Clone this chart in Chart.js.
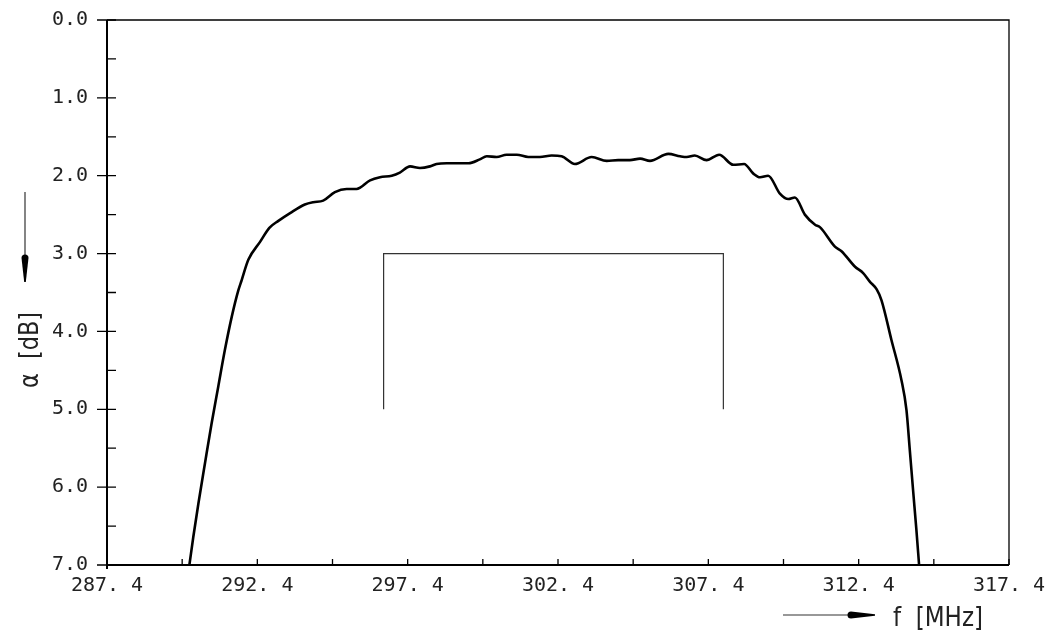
<!DOCTYPE html>
<html>
<head>
<meta charset="utf-8">
<script src="https://cdn.jsdelivr.net/npm/chart.js@4.4.1/dist/chart.umd.min.js"></script>
<style>
    html, body { margin: 0; padding: 0; background: #fff; }
    #wrap { width: 1051px; height: 635px; position: relative; }
</style>
</head>
<body>
<div id="wrap"><canvas id="attenuationChart"></canvas></div>
<script>
// Courbe d'attenuation (f en MHz, alpha en dB)
const FREQ = [
    290.14, 290.27, 290.44, 290.66, 290.88, 291.10, 291.32, 291.55, 291.77, 291.88,
    292.10, 292.49, 292.80, 293.10, 293.49, 293.98, 294.26, 294.59, 294.98, 295.37,
    295.70, 296.15, 296.48, 296.87, 297.14, 297.48, 297.81, 298.14, 298.36, 298.70,
    299.03, 299.42, 299.80, 300.03, 300.36, 300.69, 301.03, 301.41, 301.80, 302.19,
    302.52, 302.96, 303.52, 304.02, 304.40, 304.79, 305.13, 305.46, 306.07, 306.46,
    306.68, 306.95, 307.34, 307.76, 308.23, 308.59, 308.89, 309.12, 309.39, 309.78,
    310.06, 310.28, 310.61, 310.95, 311.11, 311.61, 311.83, 312.28, 312.55, 312.77,
    313.00, 313.16, 313.49, 313.82, 313.99, 314.10, 314.21, 314.32, 314.41
];
const ATTEN = [
    7.00, 6.64, 6.21, 5.69, 5.18, 4.71, 4.24, 3.81, 3.47, 3.34,
    3.08, 2.85, 2.67, 2.58, 2.48, 2.37, 2.34, 2.32, 2.21, 2.17,
    2.17, 2.06, 2.02, 2.00, 1.96, 1.88, 1.90, 1.88, 1.85, 1.84,
    1.84, 1.84, 1.79, 1.75, 1.76, 1.73, 1.73, 1.76, 1.76, 1.74,
    1.75, 1.85, 1.76, 1.81, 1.80, 1.80, 1.78, 1.81, 1.72, 1.75,
    1.76, 1.74, 1.80, 1.73, 1.86, 1.85, 1.97, 2.02, 2.00, 2.23,
    2.30, 2.28, 2.50, 2.63, 2.66, 2.91, 2.97, 3.17, 3.25, 3.36,
    3.46, 3.60, 4.11, 4.62, 5.01, 5.52, 6.04, 6.55, 7.00
];

// Gabarit (crochet)
const MASK_FREQ = [296.6, 296.6, 307.9, 307.9];
const MASK_ATTEN = [5.0, 3.0, 3.0, 5.0];

// Graduations
const X_TICKS = [287.4, 292.4, 297.4, 302.4, 307.4, 312.4, 317.4];
const X_LABELS = ['287. 4', '292. 4', '297. 4', '302. 4', '307. 4', '312. 4', '317. 4'];
const X_MINOR = [289.9, 294.9, 299.9, 304.9, 309.9, 314.9];
const Y_TICKS = [0, 1, 2, 3, 4, 5, 6, 7];
const Y_LABELS = ['0.0', '1.0', '2.0', '3.0', '4.0', '5.0', '6.0', '7.0'];
const Y_MINOR = [0.5, 1.5, 2.5, 3.5, 4.5, 5.5, 6.5];

const TICK_FONT = { family: "'DejaVu Sans Mono', monospace", size: 20 };
const INK = '#000';

/**
 * Cadre, graduations et titres d'axes
 */
const framePlugin = {
    id: 'frame',
    afterDraw(chart) {
        const { ctx, chartArea: a } = chart;
        const xs = chart.scales.x;
        const ys = chart.scales.y;
        ctx.save();
        ctx.strokeStyle = INK;
        ctx.lineCap = 'butt';

        // Cadre
        ctx.lineWidth = 1.3;
        ctx.beginPath();
        ctx.moveTo(a.left, a.top);
        ctx.lineTo(a.right, a.top);
        ctx.lineTo(a.right, a.bottom);
        ctx.stroke();
        ctx.lineWidth = 2;
        ctx.beginPath();
        ctx.moveTo(a.left, a.top);
        ctx.lineTo(a.left, a.bottom + 4);
        ctx.moveTo(a.left, a.bottom);
        ctx.lineTo(a.right, a.bottom);
        ctx.stroke();

        // Graduations Y
        ctx.lineWidth = 1.3;
        ctx.beginPath();
        Y_TICKS.forEach(v => {
            const y = ys.getPixelForValue(v);
            ctx.moveTo(a.left - 10, y);
            ctx.lineTo(a.left + 9, y);
        });
        Y_MINOR.forEach(v => {
            const y = ys.getPixelForValue(v);
            ctx.moveTo(a.left, y);
            ctx.lineTo(a.left + 9, y);
        });
        // Graduations X
        X_TICKS.concat(X_MINOR).forEach(v => {
            const x = xs.getPixelForValue(v);
            ctx.moveTo(x, a.bottom);
            ctx.lineTo(x, a.bottom - 6);
        });
        ctx.stroke();

        // Titre axe X avec fleche
        drawArrow(ctx, 783, 615, 875, 615);
        ctx.fillStyle = '#222';
        ctx.font = "27px 'DejaVu Sans'";
        ctx.textAlign = 'left';
        ctx.textBaseline = 'alphabetic';
        ctx.fillText('f  [MHz]', 893, 626, 90);

        // Titre axe Y avec fleche
        drawArrow(ctx, 25, 192, 25, 282);
        ctx.translate(38, 388);
        ctx.rotate(-Math.PI / 2);
        ctx.fillText('\u03B1  [dB]', 0, 0, 76);
        ctx.restore();
    }
};

/**
 * Fleche effilee (trait fin + pointe epaisse)
 */
function drawArrow(ctx, x0, y0, x1, y1) {
    const len = Math.hypot(x1 - x0, y1 - y0);
    ctx.save();
    ctx.translate(x0, y0);
    ctx.rotate(Math.atan2(y1 - y0, x1 - x0));
    ctx.strokeStyle = '#333';
    ctx.lineWidth = 1.2;
    ctx.beginPath();
    ctx.moveTo(0, 0);
    ctx.lineTo(len - 24, 0);
    ctx.stroke();
    ctx.fillStyle = INK;
    ctx.beginPath();
    ctx.moveTo(len - 24, -3.5);
    ctx.lineTo(len, -0.8);
    ctx.lineTo(len, 0.8);
    ctx.lineTo(len - 24, 3.5);
    ctx.arc(len - 24, 0, 3.5, Math.PI / 2, Math.PI * 1.5);
    ctx.fill();
    ctx.restore();
}

document.addEventListener('DOMContentLoaded', function () {
    const curve = FREQ.map((f, i) => ({ x: f, y: ATTEN[i] }));
    const mask = MASK_FREQ.map((f, i) => ({ x: f, y: MASK_ATTEN[i] }));

    new Chart(document.getElementById('attenuationChart'), {
        type: 'line',
        data: {
            datasets: [{
                data: curve,
                borderColor: INK,
                borderWidth: 2.6,
                pointRadius: 0,
                cubicInterpolationMode: 'monotone',
                fill: false
            }, {
                data: mask,
                borderColor: '#333',
                borderWidth: 1.2,
                pointRadius: 0,
                tension: 0,
                fill: false
            }]
        },
        options: {
            responsive: true,
            maintainAspectRatio: false,
            animation: false,
            layout: { padding: { top: 20, right: 42, left: 0, bottom: 0 } },
            plugins: {
                legend: { display: false },
                tooltip: { enabled: false }
            },
            scales: {
                x: {
                    type: 'linear',
                    min: 287.4,
                    max: 317.4,
                    grid: { display: false, drawTicks: false },
                    border: { display: false },
                    afterBuildTicks: scale => { scale.ticks = X_TICKS.map(v => ({ value: v })); },
                    afterFit: scale => {
                        scale.height = 70;
                        scale.paddingLeft = 0;
                        scale.paddingRight = 0;
                    },
                    ticks: {
                        autoSkip: false,
                        maxRotation: 0,
                        padding: 9,
                        color: '#222',
                        font: TICK_FONT,
                        callback: (v, i) => X_LABELS[i]
                    }
                },
                y: {
                    type: 'linear',
                    reverse: true,
                    min: 0,
                    max: 7,
                    grid: { display: false, drawTicks: false },
                    border: { display: false },
                    afterBuildTicks: scale => { scale.ticks = Y_TICKS.map(v => ({ value: v })); },
                    afterFit: scale => {
                        scale.width = 107;
                        scale.paddingTop = 0;
                        scale.paddingBottom = 0;
                    },
                    ticks: {
                        autoSkip: false,
                        padding: 19,
                        color: '#222',
                        font: TICK_FONT,
                        callback: (v, i) => Y_LABELS[i]
                    }
                }
            }
        },
        plugins: [framePlugin]
    });
});
</script>
</body>
</html>
